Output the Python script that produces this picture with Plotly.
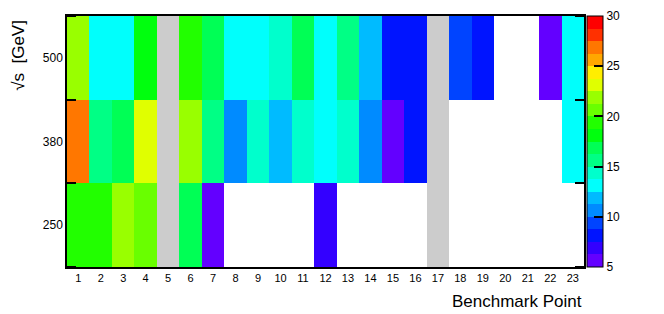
import colorsys
import plotly.graph_objects as go

# ---- data ----
benchmark_points = list(range(1, 24))
energies = ["250", "380", "500"]
row_250 = [19.4, 19.4, 21.9, 20.6, None, 16.9, 5.6, None, None, None, None, 6.9,
           None, None, None, None, None, None, None, None, None, None, None]
row_380 = [26.9, 15.6, 16.9, 23.1, None, 21.9, 15.6, 10.6, 14.4, 11.9, 14.4, 13.1,
           14.4, 10.6, 5.6, 8.1, None, None, None, None, None, None, 13.1]
row_500 = [21.9, 13.1, 13.1, 18.1, None, 19.4, 16.9, 13.1, 13.1, 14.4, 16.9, 13.1,
           15.6, 11.9, 8.1, 8.1, None, 9.4, 8.1, None, None, 5.6, 13.1]
unavailable_points = [5, 17]
cbar_ticks = [5, 10, 15, 20, 25, 30]
zmin, zmax, nlevels = 5, 30, 20

# ---- ROOT "pretty" palette sampled at 20 contours ----
def root_color(i):
    k = int((i + 0.99) * 50 / nlevels)
    hue = 280 - (k + 1) * (280 / 50)
    r, g, b = colorsys.hls_to_rgb((hue % 360) / 360.0, 0.5, 1.0)
    return f"rgb({round(r*255)},{round(g*255)},{round(b*255)})"

colorscale = []
for i in range(nlevels):
    c = root_color(i)
    colorscale.append([i / nlevels, c])
    colorscale.append([(i + 1) / nlevels, c])

z = [row_250, row_380, row_500]
z_gray = [[1 if p in unavailable_points else None for p in benchmark_points] for _ in energies]

font = "Liberation Sans, Arial, Helvetica, sans-serif"

fig = go.Figure()
fig.add_trace(go.Heatmap(
    x=benchmark_points, y=[0, 1, 2], z=z_gray,
    colorscale=[[0, "#cccccc"], [1, "#cccccc"]], showscale=False,
    hoverinfo="skip", xgap=0, ygap=0,
))
fig.add_trace(go.Heatmap(
    x=benchmark_points, y=[0, 1, 2], z=z,
    zmin=zmin, zmax=zmax, colorscale=colorscale,
    colorbar=dict(
        thickness=16, len=1, lenmode="fraction", y=0.5, yanchor="middle", ypad=0,
        x=1.006, xanchor="left", xpad=0,
        tickvals=cbar_ticks, ticks="inside", ticklen=9, tickcolor="black", tickwidth=1.5,
        outlinewidth=1, outlinecolor="black",
        tickfont=dict(family=font, size=12, color="black"),
    ),
))

fig.update_layout(
    width=656, height=306,
    margin=dict(l=59, r=80, t=8, b=47, autoexpand=False),
    paper_bgcolor="white", plot_bgcolor="white",
    font=dict(family=font, color="black"),
    xaxis=dict(
        range=[0.5, 23.5], tickvals=benchmark_points, ticks="", showgrid=False,
        zeroline=False, showline=True, linecolor="black", linewidth=1.5, mirror=True,
        tickfont=dict(size=11), ticklen=0, automargin=False,
    ),
    yaxis=dict(
        range=[-0.5, 2.5], tickvals=[0, 1, 2], ticktext=energies, ticks="",
        showgrid=False, zeroline=False, showline=True, linecolor="black",
        linewidth=1.5, mirror="ticks", tickfont=dict(size=12), automargin=False,
        minor=dict(tick0=0.5, dtick=1, ticks="inside", ticklen=9, tickwidth=1.5,
                   tickcolor="black", showgrid=False),
    ),
    annotations=[
        dict(text="√s  [GeV]", xref="paper", yref="paper", x=-0.093, y=0.845,
             textangle=-90, showarrow=False, xanchor="center", yanchor="middle",
             font=dict(size=17)),
        dict(text="Benchmark Point", xref="paper", yref="paper", x=1.0, y=-0.138,
             showarrow=False, xanchor="right", yanchor="middle",
             font=dict(size=17)),
    ],
)

fig.write_html("out.html")
